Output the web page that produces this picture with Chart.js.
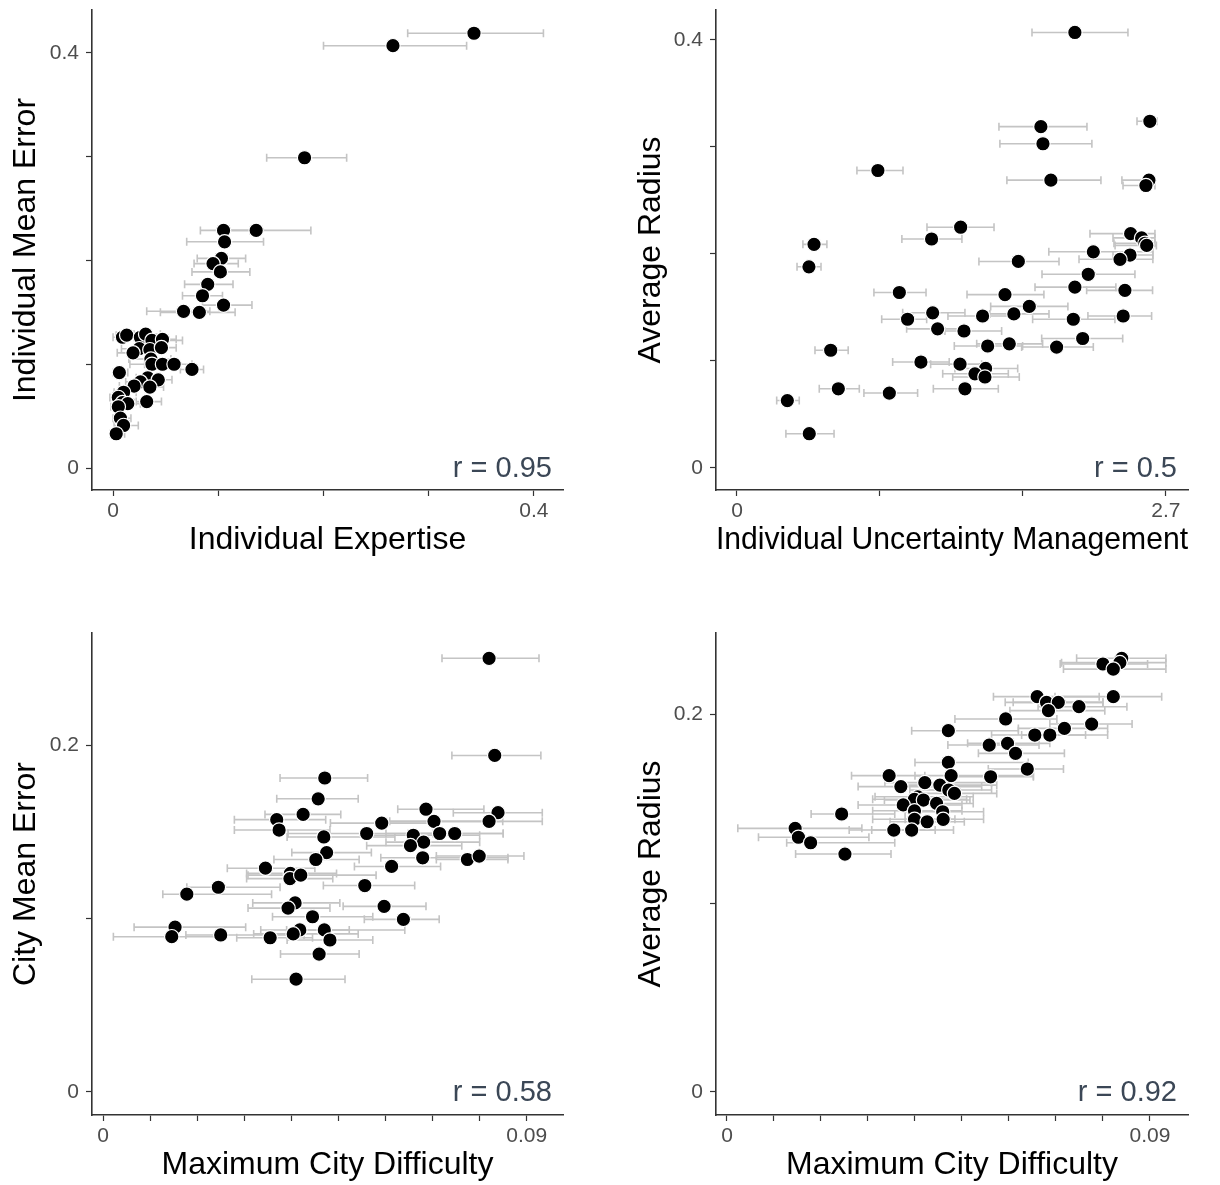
<!doctype html>
<html>

<head>
	<title>Expertise and difficulty scatter panels</title>
	<script src="https://cdn.jsdelivr.net/npm/chart.js@4.4.1/dist/chart.umd.min.js"></script>
	<style>
		body { margin: 0; background: #fff; }
		.panel { position: absolute; }
	</style>
</head>

<body>
	<div class="panel" style="left:0;top:0"><canvas id="p1" width="610" height="592"></canvas></div>
	<div class="panel" style="left:610px;top:0"><canvas id="p2" width="610" height="592"></canvas></div>
	<div class="panel" style="left:0;top:592px"><canvas id="p3" width="610" height="593"></canvas></div>
	<div class="panel" style="left:610px;top:592px"><canvas id="p4" width="610" height="593"></canvas></div>

	<script>
		// panel 1: individual expertise vs individual mean error
		var p1X = [0.343, 0.266, 0.182, 0.136, 0.105, 0.106, 0.103, 0.095, 0.102, 0.090, 0.085, 0.105, 0.067, 0.082,
			0.009, 0.013, 0.026, 0.031, 0.037, 0.047, 0.025, 0.019, 0.035, 0.046, 0.036, 0.037, 0.047, 0.058, 0.075,
			0.006, 0.033, 0.043, 0.026, 0.020, 0.035, 0.010, 0.005, 0.009, 0.014, 0.005, 0.032, 0.007, 0.010, 0.003];
		var p1Y = [0.419, 0.407, 0.299, 0.229, 0.229, 0.218, 0.202, 0.197, 0.189, 0.177, 0.166, 0.157, 0.151, 0.150,
			0.126, 0.128, 0.126, 0.129, 0.123, 0.124, 0.115, 0.111, 0.114, 0.116, 0.105, 0.100, 0.100, 0.100, 0.095,
			0.092, 0.087, 0.085, 0.083, 0.079, 0.078, 0.073, 0.068, 0.063, 0.062, 0.059, 0.064, 0.048, 0.041, 0.033];
		var p1Lo = [0.280, 0.200, 0.146, 0.100, 0.083, 0.070, 0.080, 0.077, 0.075, 0.068, 0.066, 0.085, 0.032, 0.045,
			0.000, 0.003, 0.012, 0.020, 0.022, 0.035, 0.008, 0.004, 0.018, 0.030, 0.015, 0.016, 0.030, 0.040, 0.064,
			0.000, 0.022, 0.030, 0.012, 0.006, 0.022, 0.001, -0.003, 0.001, 0.004, -0.002, 0.022, 0.000, 0.001, -0.003];
		var p1Hi = [0.409, 0.336, 0.222, 0.188, 0.130, 0.143, 0.126, 0.119, 0.130, 0.114, 0.104, 0.132, 0.092, 0.116,
			0.020, 0.025, 0.040, 0.045, 0.066, 0.060, 0.042, 0.033, 0.050, 0.060, 0.055, 0.058, 0.063, 0.075, 0.086,
			0.014, 0.046, 0.056, 0.040, 0.033, 0.048, 0.022, 0.015, 0.020, 0.026, 0.014, 0.046, 0.017, 0.024, 0.011];

		// panel 2: individual uncertainty management vs average radius
		var p2X = [2.127, 2.599, 1.913, 1.926, 0.887, 1.976, 2.593, 2.574, 1.408, 0.485, 1.225, 0.453, 2.478, 2.547,
			2.568, 2.579, 2.243, 2.474, 2.411, 1.771, 2.211, 2.127, 2.442, 1.022, 1.687, 1.840, 1.232, 1.074, 1.546,
			1.743, 2.117, 2.431, 1.263, 1.429, 0.590, 1.578, 1.714, 2.012, 2.176, 1.158, 1.404, 1.565, 1.498, 1.561,
			0.638, 0.959, 1.435, 0.317, 0.455];
		var p2Y = [0.407, 0.324, 0.319, 0.303, 0.278, 0.269, 0.269, 0.264, 0.225, 0.209, 0.214, 0.188, 0.219, 0.215,
			0.210, 0.208, 0.202, 0.199, 0.195, 0.193, 0.181, 0.169, 0.166, 0.164, 0.162, 0.151, 0.145, 0.139, 0.142,
			0.144, 0.139, 0.142, 0.130, 0.128, 0.110, 0.114, 0.116, 0.113, 0.121, 0.099, 0.097, 0.093, 0.088, 0.085,
			0.074, 0.070, 0.074, 0.063, 0.032];
		var p2Lo = [1.857, 2.518, 1.649, 1.655, 0.755, 1.699, 2.423, 2.430, 1.196, 0.415, 1.038, 0.378, 2.222, 2.367,
			2.373, 2.380, 1.963, 2.367, 2.153, 1.523, 1.920, 1.876, 2.201, 0.862, 1.448, 1.597, 1.043, 0.911, 1.328,
			1.592, 1.861, 2.209, 1.068, 1.309, 0.491, 1.368, 1.509, 1.792, 1.918, 0.980, 1.219, 1.372, 1.295, 1.358,
			0.518, 0.799, 1.236, 0.250, 0.308];
		var p2Hi = [2.461, 2.644, 2.203, 2.234, 1.045, 2.291, 2.631, 2.631, 1.618, 0.566, 1.416, 0.529, 2.631, 2.631,
			2.631, 2.640, 2.618, 2.618, 2.618, 2.027, 2.505, 2.385, 2.616, 1.190, 1.932, 2.083, 1.435, 1.194, 1.737,
			1.964, 2.379, 2.610, 1.429, 1.666, 0.700, 1.798, 1.924, 2.243, 2.428, 1.336, 1.540, 1.767, 1.708, 1.777,
			0.770, 1.137, 1.645, 0.392, 0.611];

		// panel 3: maximum city difficulty vs city mean error
		var p3X = [0.0820, 0.0832, 0.0471, 0.0457, 0.0369, 0.0425, 0.0374, 0.0469, 0.0592, 0.0560, 0.0686, 0.0703,
			0.0839, 0.0820, 0.0659, 0.0715, 0.0747, 0.0681, 0.0653, 0.0679, 0.0774, 0.0799, 0.0475, 0.0452, 0.0613,
			0.0345, 0.0398, 0.0397, 0.0420, 0.0245, 0.0178, 0.0556, 0.0408, 0.0393, 0.0597, 0.0445, 0.0638, 0.0153,
			0.0146, 0.0250, 0.0355, 0.0418, 0.0404, 0.0470, 0.0482, 0.0459, 0.0410];
		var p3Y = [0.250, 0.194, 0.181, 0.169, 0.157, 0.160, 0.151, 0.147, 0.155, 0.149, 0.163, 0.156,
			0.161, 0.156, 0.148, 0.149, 0.149, 0.144, 0.142, 0.135, 0.134, 0.136, 0.138, 0.134, 0.130,
			0.129, 0.126, 0.123, 0.125, 0.118, 0.114, 0.119, 0.109, 0.106, 0.107, 0.101, 0.0995, 0.095,
			0.0895, 0.0905, 0.0889, 0.0934, 0.0911, 0.0934, 0.0876, 0.0795, 0.0650];
		var p3Lo = [0.0720, 0.0741, 0.0376, 0.0369, 0.0279, 0.0344, 0.0279, 0.0391, 0.0483, 0.0393, 0.0626, 0.0602,
			0.0744, 0.0609, 0.0560, 0.0601, 0.0648, 0.0601, 0.0560, 0.0590, 0.0708, 0.0708, 0.0401, 0.0363, 0.0534,
			0.0264, 0.0305, 0.0305, 0.0308, 0.0178, 0.0127, 0.0468, 0.0318, 0.0308, 0.0510, 0.0360, 0.0555, 0.0066,
			0.0022, 0.0176, 0.0284, 0.0335, 0.0320, 0.0390, 0.0391, 0.0377, 0.0316];
		var p3Hi = [0.0926, 0.0930, 0.0562, 0.0542, 0.0473, 0.0505, 0.0482, 0.0620, 0.0705, 0.0701, 0.0809, 0.0849,
			0.0933, 0.0933, 0.0800, 0.0850, 0.0850, 0.0800, 0.0762, 0.0860, 0.0860, 0.0894, 0.0570, 0.0544, 0.0717,
			0.0450, 0.0496, 0.0488, 0.0580, 0.0376, 0.0358, 0.0662, 0.0503, 0.0482, 0.0686, 0.0573, 0.0714, 0.0303,
			0.0248, 0.0427, 0.0445, 0.0523, 0.0542, 0.0641, 0.0573, 0.0544, 0.0514];

		// panel 4: maximum city difficulty vs average radius
		var p4X = [0.0840, 0.0836, 0.0800, 0.0822, 0.0822, 0.0660, 0.0680, 0.0705, 0.0684, 0.0749, 0.0776, 0.0593,
			0.0471, 0.0718, 0.0655, 0.0687, 0.0558, 0.0597, 0.0614, 0.0471, 0.0639, 0.0477, 0.0561, 0.0345, 0.0370,
			0.0421, 0.0453, 0.0472, 0.0484, 0.0406, 0.0399, 0.0418, 0.0375, 0.0446, 0.0399, 0.0459, 0.0399, 0.0460,
			0.0426, 0.0244, 0.0355, 0.0393, 0.0145, 0.0152, 0.0178, 0.0251];
		var p4Y = [0.2295, 0.2272, 0.2265, 0.2238, 0.2092, 0.2092, 0.2062, 0.2062, 0.2018, 0.2039, 0.1947, 0.1974,
			0.1912, 0.1924, 0.1889, 0.1889, 0.1836, 0.1845, 0.1792, 0.1744, 0.1709, 0.1674, 0.1668, 0.1674, 0.1616,
			0.1637, 0.1624, 0.1598, 0.1580, 0.1562, 0.1549, 0.1545, 0.1519, 0.1527, 0.1488, 0.1483, 0.1443, 0.1443,
			0.1430, 0.1471, 0.1386, 0.1386, 0.1395, 0.1348, 0.1319, 0.1259];
		var p4Lo = [0.0744, 0.0712, 0.0709, 0.0716, 0.0698, 0.0567, 0.0592, 0.0609, 0.0602, 0.0662, 0.0687, 0.0485,
			0.0393, 0.0620, 0.0563, 0.0627, 0.0470, 0.0512, 0.0535, 0.0400, 0.0556, 0.0400, 0.0484, 0.0265, 0.0279,
			0.0336, 0.0368, 0.0389, 0.0400, 0.0315, 0.0310, 0.0335, 0.0279, 0.0379, 0.0310, 0.0379, 0.0310, 0.0379,
			0.0347, 0.0179, 0.0260, 0.0308, 0.0023, 0.0067, 0.0127, 0.0146];
		var p4Hi = [0.0934, 0.0934, 0.0895, 0.0934, 0.0925, 0.0792, 0.0800, 0.0800, 0.0804, 0.0851, 0.0862, 0.0702,
			0.0620, 0.0810, 0.0763, 0.0810, 0.0664, 0.0687, 0.0718, 0.0641, 0.0716, 0.0652, 0.0652, 0.0421, 0.0542,
			0.0563, 0.0574, 0.0563, 0.0574, 0.0524, 0.0510, 0.0517, 0.0500, 0.0524, 0.0500, 0.0546, 0.0485, 0.0546,
			0.0505, 0.0357, 0.0443, 0.0482, 0.0287, 0.0302, 0.0357, 0.0349];

		// axis ticks and their labels
		var ticksExpertise = [0, 0.1, 0.2, 0.3, 0.4];
		var labelsExpertise = ['0', '', '', '', '0.4'];
		var ticksUncertainty = [0, 0.9, 1.8, 2.7];
		var labelsUncertainty = ['0', '', '', '2.7'];
		var ticksDifficulty = [0, 0.01, 0.02, 0.03, 0.04, 0.05, 0.06, 0.07, 0.08, 0.09];
		var labelsDifficulty = ['0', '', '', '', '', '', '', '', '', '0.09'];
		var ticksRadius = [0, 0.1, 0.2, 0.3, 0.4];
		var labelsRadius = ['0', '', '', '', '0.4'];
		var ticksCityErr = [0, 0.1, 0.2];
		var labelsCityErr = ['0', '', '0.2'];

		var FONT = '"Liberation Sans", Arial, Helvetica, sans-serif';
		Chart.defaults.font.family = FONT;
		Chart.defaults.color = '#4d4d4d';

		// horizontal error bars, drawn under the points
		var errorBars = {
			id: 'errorBars',
			beforeDatasetsDraw: function (chart) {
				var ctx = chart.ctx, xs = chart.scales.x, ys = chart.scales.y;
				var pts = chart.data.datasets[0].data;
				ctx.save();
				ctx.beginPath();
				ctx.rect(chart.chartArea.left, chart.chartArea.top, chart.chartArea.width, chart.chartArea.height);
				ctx.clip();
				ctx.strokeStyle = '#c4c4c4';
				ctx.lineWidth = 1.6;
				pts.forEach(function (p) {
					var yy = ys.getPixelForValue(p.y);
					var a = xs.getPixelForValue(p.lo), b = xs.getPixelForValue(p.hi);
					ctx.beginPath();
					ctx.moveTo(a, yy); ctx.lineTo(b, yy);
					ctx.moveTo(a, yy - 4); ctx.lineTo(a, yy + 4);
					ctx.moveTo(b, yy - 4); ctx.lineTo(b, yy + 4);
					ctx.stroke();
				});
				ctx.restore();
			}
		};

		// correlation label in the bottom right corner
		var corrLabel = {
			id: 'corrLabel',
			afterDraw: function (chart, args, opts) {
				var ctx = chart.ctx;
				ctx.save();
				ctx.font = '29px ' + FONT;
				ctx.fillStyle = '#3b4756';
				ctx.textAlign = 'right';
				ctx.textBaseline = 'middle';
				ctx.fillText(opts.text, chart.chartArea.right - 11, chart.scales.y.getPixelForValue(0) + 1);
				ctx.restore();
			}
		};

		function makePanel(id, c) {
			var pts = c.x.map(function (v, i) {
				return { x: v, y: c.y[i], lo: c.lo[i], hi: c.hi[i] };
			});

			function axis(range, ticks, labels, title, size, titlePad, tickPad) {
				return {
					type: 'linear',
					min: range[0],
					max: range[1],
					afterBuildTicks: function (s) {
						s.ticks = ticks.map(function (v) { return { value: v }; });
					},
					afterFit: function (s) {
						if (s.isHorizontal()) s.height = size;
						else s.width = size;
						// no extra room for the end labels
						s.paddingTop = 0; s.paddingBottom = 0;
						s.paddingLeft = 0; s.paddingRight = 0;
					},
					grid: {
						display: true,
						drawOnChartArea: false,
						drawTicks: true,
						tickLength: 6,
						tickColor: '#333',
						tickWidth: 1.2
					},
					border: { display: true, color: '#333', width: 1.6 },
					ticks: {
						autoSkip: false,
						maxRotation: 0,
						padding: tickPad,
						font: { size: 21 },
						color: '#4d4d4d',
						callback: function (v, i) { return labels[i]; }
					},
					title: {
						display: true,
						text: title,
						color: '#000',
						font: { size: 32 },
						padding: titlePad
					}
				};
			}

			return new Chart(document.getElementById(id), {
				type: 'scatter',
				data: {
					datasets: [{
						data: pts,
						pointRadius: 7.2,
						pointHoverRadius: 7.2,
						backgroundColor: '#000',
						borderColor: '#fff',
						borderWidth: 1.2
					}]
				},
				options: {
					responsive: false,
					animation: false,
					devicePixelRatio: 1,
					layout: { autoPadding: false, padding: c.pad },
					plugins: {
						legend: { display: false },
						tooltip: { enabled: false },
						corrLabel: { text: c.r }
					},
					scales: {
						x: axis(c.xRange, c.xTicks, c.xLabels, c.xTitle, 69, { top: 0, bottom: 0 }, 3),
						y: axis(c.yRange, c.yTicks, c.yLabels, c.yTitle, c.yWidth, { top: c.yTitlePad, bottom: 0 }, 7)
					}
				},
				plugins: [errorBars, corrLabel]
			});
		}

		makePanel('p1', {
			x: p1X, y: p1Y, lo: p1Lo, hi: p1Hi, r: 'r = 0.95',
			xTitle: 'Individual Expertise', yTitle: 'Individual Mean Error',
			xRange: [-0.020, 0.4276], yRange: [-0.0212, 0.4414],
			xTicks: ticksExpertise, xLabels: labelsExpertise,
			yTicks: ticksExpertise, yLabels: labelsExpertise,
			yWidth: 92, yTitlePad: 7,
			pad: { left: 0, top: 10, right: 47, bottom: 33 }
		});

		makePanel('p2', {
			x: p2X, y: p2Y, lo: p2Lo, hi: p2Hi, r: 'r = 0.5',
			xTitle: 'Individual Uncertainty Management', yTitle: 'Average Radius',
			xRange: [-0.132, 2.839], yRange: [-0.0206, 0.428],
			xTicks: ticksUncertainty, xLabels: labelsUncertainty,
			yTicks: ticksRadius, yLabels: labelsRadius,
			yWidth: 106, yTitlePad: 22,
			pad: { left: 0, top: 10, right: 32, bottom: 33 }
		});

		makePanel('p3', {
			x: p3X, y: p3Y, lo: p3Lo, hi: p3Hi, r: 'r = 0.58',
			xTitle: 'Maximum City Difficulty', yTitle: 'City Mean Error',
			xRange: [-0.00234, 0.0977], yRange: [-0.0133, 0.2646],
			xTicks: ticksDifficulty, xLabels: labelsDifficulty,
			yTicks: ticksCityErr, yLabels: labelsCityErr,
			yWidth: 92, yTitlePad: 7,
			pad: { left: 0, top: 41, right: 47, bottom: 1 }
		});

		makePanel('p4', {
			x: p4X, y: p4Y, lo: p4Lo, hi: p4Hi, r: 'r = 0.92',
			xTitle: 'Maximum City Difficulty', yTitle: 'Average Radius',
			xRange: [-0.00234, 0.0981], yRange: [-0.0122, 0.2429],
			xTicks: ticksDifficulty, xLabels: labelsDifficulty,
			yTicks: ticksCityErr, yLabels: labelsCityErr,
			yWidth: 106, yTitlePad: 22,
			pad: { left: 0, top: 41, right: 32, bottom: 1 }
		});
	</script>
</body>

</html>
